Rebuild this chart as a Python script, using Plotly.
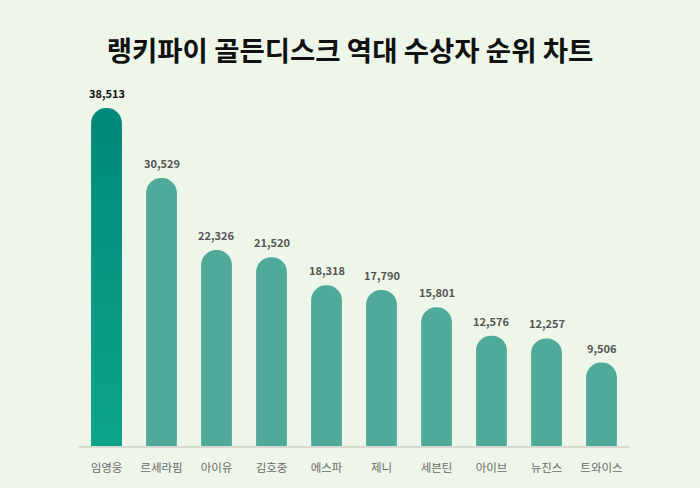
import plotly.graph_objects as go

categories = ["임영웅", "르세라핌", "아이유", "김호중", "에스파", "제니", "세븐틴", "아이브", "뉴진스", "트와이스"]
values = [38513, 30529, 22326, 21520, 18318, 17790, 15801, 12576, 12257, 9506]
title_text = "랭키파이 골든디스크 역대 수상자 순위 차트"

BG = "#eef6e9"
BAR = "#4faa99"
TOP = (0x00, 0x89, 0x7a)
BOT = (0x0d, 0xa6, 0x89)
BAR_W = 0.56
FONT = "Noto Sans CJK KR"

def mix(f):
    c = [round(BOT[i] + (TOP[i] - BOT[i]) * f) for i in range(3)]
    return "rgb(%d,%d,%d)" % tuple(c)

fig = go.Figure()
colors = [mix(1.0)] + [BAR] * (len(values) - 1)
text_colors = ["#111111"] + ["#555555"] * (len(values) - 1)
fig.add_trace(go.Bar(
    x=categories, y=values, width=BAR_W,
    marker=dict(color=colors, cornerradius="50%", line=dict(width=0)),
    hoverinfo="skip",
))

# gradient on the leading bar
N = 40
for k in range(N, 0, -1):
    f = k / N
    fig.add_trace(go.Bar(
        x=[categories[0]], y=[values[0] * 0.94 * f], width=BAR_W,
        marker=dict(color=mix(0.94 * f), line=dict(width=0)),
        hoverinfo="skip", showlegend=False,
    ))

for c, v, tc in zip(categories, values, text_colors):
    fig.add_annotation(
        x=c, y=v, text=f"{v:,}", showarrow=False, yanchor="middle", yshift=15,
        font=dict(family=FONT, size=11, color=tc, weight="bold"),
    )

fig.update_layout(
    width=700, height=488,
    paper_bgcolor=BG, plot_bgcolor=BG,
    barmode="overlay", showlegend=False,
    margin=dict(l=79, r=71, t=100, b=42),
    title=dict(text=title_text, x=0.5, xanchor="center", y=1 - 51 / 488, yanchor="middle",
               font=dict(family=FONT, size=27.5, color="#111111", weight="bold")),
    xaxis=dict(showline=True, linecolor="#d6d9d4", linewidth=2, ticks="",
               ticklabelstandoff=10,
               tickfont=dict(family=FONT, size=11.5, color="#6b6b6b"),
               showgrid=False, fixedrange=True),
    yaxis=dict(range=[0, 39430], visible=False, showgrid=False, fixedrange=True),
)

fig.write_html(
    "out.html",
    config={"displayModeBar": False},
    post_script="document.body.style.margin='0';document.body.style.background='#eef6e9';",
)
